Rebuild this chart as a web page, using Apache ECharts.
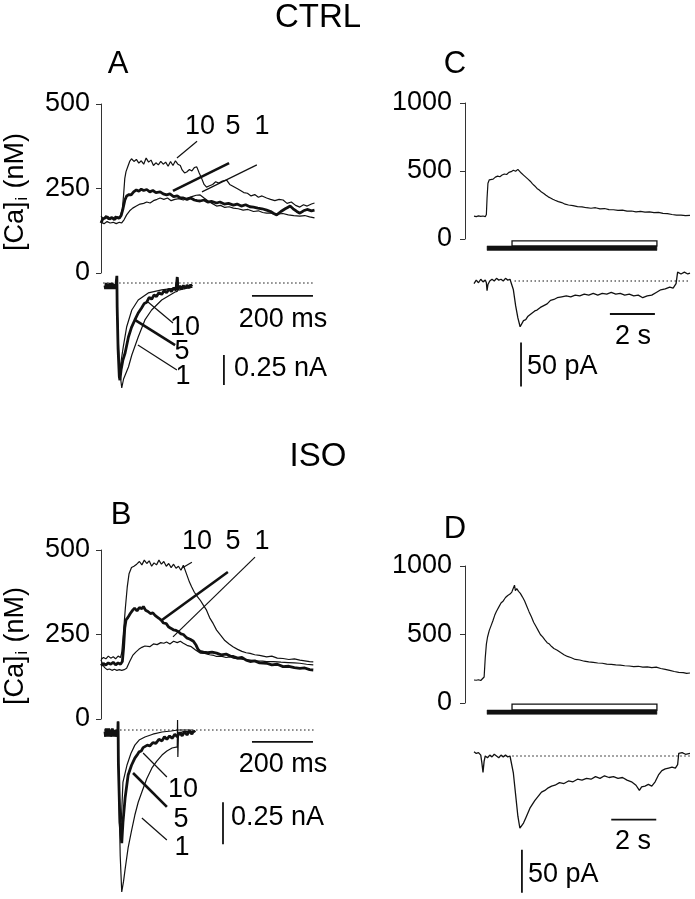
<!DOCTYPE html>
<html><head><meta charset="utf-8">
<script src="https://cdn.jsdelivr.net/npm/echarts@6/dist/echarts.min.js"></script>
<style>html,body{margin:0;padding:0;background:#fff}#c{width:695px;height:899px}</style>
</head><body><div id="c"></div>
<script>
// ---------- DATA ----------
// Panel A (CTRL) [Ca]i traces, time (ms) vs nM
const caA10 = [[0,168],[8,160],[16,170],[24,158],[32,165],[40,162],[48,168],[56,160],[64,170],[70,190],[74,230],[78,280],[82,300],[88,315],[94,330],[100,338],[108,330],[116,336],[124,325],[132,332],[140,322],[148,340],[156,328],[164,334],[172,318],[180,326],[188,320],[196,330],[204,322],[212,328],[220,316],[228,330],[236,318],[244,332],[252,322],[260,318],[266,305],[274,296],[281,299],[290,306],[298,302],[306,312],[314,314],[322,296],[330,280],[338,262],[346,254],[356,258],[366,262],[376,270],[386,266],[398,272],[412,275],[422,262],[434,256],[446,250],[456,245],[468,238],[480,236],[492,228],[504,232],[516,224],[528,228],[543,222],[556,218],[570,214],[584,218],[597,216],[610,206],[624,210],[638,200],[652,195],[664,202],[676,198],[690,204],[700,207]];
const caA5 = [[0,148],[6,160],[12,156],[20,166],[28,160],[36,164],[44,158],[52,165],[60,162],[66,170],[72,190],[78,215],[84,228],[92,232],[99,231],[107,240],[116,246],[124,242],[132,248],[140,244],[150,247],[160,240],[170,244],[180,238],[194,240],[204,234],[215,231],[226,234],[238,226],[250,228],[260,222],[270,222],[282,218],[294,222],[306,216],[315,214],[325,213],[338,216],[350,210],[362,212],[379,207],[390,210],[404,204],[418,206],[434,201],[446,204],[460,198],[474,202],[488,196],[500,195],[514,192],[528,190],[543,186],[556,182],[566,176],[576,172],[590,182],[604,190],[612,194],[620,198],[630,190],[642,182],[652,177],[664,184],[676,188],[690,184],[700,186]];
const caA1 = [[0,150],[10,146],[20,152],[30,148],[40,150],[50,146],[60,150],[68,148],[76,158],[84,172],[94,184],[104,192],[116,198],[128,204],[140,206],[150,210],[161,207],[172,214],[184,218],[194,222],[206,218],[218,222],[230,214],[242,218],[256,220],[270,216],[284,222],[298,226],[312,230],[325,231],[338,222],[350,214],[364,206],[379,198],[392,200],[406,194],[420,196],[434,192],[450,190],[466,186],[482,188],[500,182],[516,184],[530,179],[543,177],[560,178],[578,174],[596,176],[614,172],[632,170],[652,168],[668,170],[684,166],[700,163]];
// Panel A membrane current (nA)
const iA10 = [[13,-0.02],[20,-0.03],[27,-0.01],[34,-0.03],[41,-0.02],[48,-0.03],[52,0.05],[54,-0.3],[58,-0.62],[62,-0.725],[66,-0.65],[73,-0.533],[84,-0.367],[101,-0.225],[122,-0.142],[155,-0.083],[199,-0.058],[243,-0.042],[250,0.03],[252,-0.04],[292,-0.025]];
const iA5 = [[13,-0.02],[15,-0.05],[17,0.0],[19,-0.04],[21,-0.01],[23,-0.05],[25,-0.01],[27,-0.04],[29,0.0],[31,-0.05],[33,-0.02],[35,-0.04],[37,0.0],[39,-0.05],[41,-0.01],[43,-0.04],[45,-0.01],[47,-0.05],[49,-0.02],[51,-0.03],[52,0.06],[53,-0.2],[56,-0.55],[60,-0.78],[62,-0.81],[66,-0.72],[72,-0.64],[79,-0.583],[90,-0.45],[100,-0.37],[111,-0.308],[122,-0.25],[133,-0.208],[142,-0.17],[150,-0.16],[158,-0.12],[166,-0.135],[174,-0.1],[182,-0.112],[190,-0.08],[199,-0.095],[207,-0.062],[215,-0.08],[223,-0.05],[231,-0.07],[239,-0.04],[246,-0.06],[250,0.05],[252,-0.05],[258,-0.025],[264,-0.05],[270,-0.02],[276,-0.045],[282,-0.018],[288,-0.04],[294,-0.015],[298,-0.03]];
const iA1 = [[13,-0.03],[20,-0.02],[27,-0.04],[34,-0.02],[41,-0.03],[48,-0.02],[52,0.05],[54,-0.3],[60,-0.7],[68,-0.875],[74,-0.8],[90,-0.7],[101,-0.6],[122,-0.45],[144,-0.308],[166,-0.225],[199,-0.142],[243,-0.075],[250,-0.07],[252,0.04],[254,-0.06],[285,-0.042],[300,-0.035]];
// Panel B (ISO) [Ca]i traces
const caB10 = [[0,176],[8,182],[16,178],[24,186],[32,180],[40,184],[48,178],[56,186],[64,182],[68,196],[74,260],[80,330],[86,390],[92,430],[100,448],[108,452],[117,458],[126,466],[134,456],[142,470],[150,460],[158,468],[166,452],[174,462],[182,456],[190,470],[198,458],[206,466],[214,452],[222,460],[230,448],[238,458],[246,446],[254,452],[262,440],[270,455],[280,430],[290,405],[297,391],[306,375],[316,362],[325,352],[336,336],[346,322],[356,300],[368,282],[379,263],[392,248],[406,232],[420,222],[434,213],[448,206],[462,200],[476,196],[489,194],[504,190],[520,188],[543,184],[560,186],[578,180],[597,179],[616,176],[634,178],[652,174],[668,172],[684,170],[696,169]];
const caB5 = [[0,158],[8,164],[16,160],[24,166],[32,162],[40,168],[48,160],[56,166],[64,162],[70,170],[74,210],[78,270],[82,293],[88,300],[96,312],[104,322],[110,328],[118,320],[126,330],[134,326],[139,333],[146,322],[154,318],[162,312],[170,314],[178,306],[183,304],[190,298],[198,292],[205,284],[214,282],[222,272],[230,268],[237,264],[246,262],[254,258],[262,252],[270,250],[281,240],[292,236],[303,230],[312,218],[318,206],[325,200],[336,198],[350,196],[364,198],[379,195],[394,190],[410,192],[424,186],[434,185],[448,180],[462,182],[476,174],[489,170],[504,172],[520,166],[543,165],[560,160],[578,162],[597,155],[616,156],[634,152],[652,150],[668,151],[684,146],[696,145]];
const caB1 = [[0,175],[6,160],[12,152],[20,146],[28,148],[36,144],[44,147],[52,144],[60,146],[68,144],[76,146],[84,150],[94,170],[104,188],[114,198],[124,206],[134,212],[144,216],[150,219],[160,214],[172,222],[184,220],[196,226],[206,224],[215,228],[226,222],[238,230],[250,226],[260,230],[270,224],[282,218],[296,214],[310,204],[325,195],[340,194],[356,190],[370,188],[379,185],[394,186],[410,182],[424,184],[434,180],[452,178],[470,176],[490,174],[510,172],[530,171],[543,170],[566,170],[590,168],[614,167],[634,166],[652,165],[674,162],[696,160]];
// Panel B membrane current (nA)
const iB10 = [[13,-0.01],[22,0.0],[31,-0.02],[40,0.0],[48,-0.01],[55,0.0],[56,0.05],[57,-0.2],[62,-0.5],[66,-0.565],[72,-0.31],[85,-0.21],[98,-0.14],[111,-0.09],[125,-0.06],[144,-0.042],[170,-0.025],[200,-0.012],[230,-0.006],[252,0.0],[300,0.0]];
const iB5 = [[13,-0.01],[15,-0.04],[17,0.01],[19,-0.03],[21,0.0],[23,-0.04],[25,0.01],[27,-0.03],[29,0.0],[31,-0.04],[33,-0.01],[35,-0.03],[37,0.01],[39,-0.04],[41,0.0],[43,-0.03],[45,0.0],[47,-0.04],[49,-0.01],[51,-0.03],[53,0.0],[55,-0.02],[56,0.05],[57,-0.2],[62,-0.55],[68,-0.673],[72,-0.55],[79,-0.405],[89,-0.268],[100,-0.21],[111,-0.167],[118,-0.15],[125,-0.13],[132,-0.125],[138,-0.105],[144,-0.115],[152,-0.09],[160,-0.095],[170,-0.075],[180,-0.08],[190,-0.055],[200,-0.065],[208,-0.04],[216,-0.055],[225,-0.035],[233,-0.05],[242,-0.025],[250,-0.04],[258,-0.015],[266,-0.035],[274,-0.01],[282,-0.03],[290,-0.005],[298,-0.025],[304,-0.005],[308,-0.015]];
const iB1 = [[13,-0.01],[22,-0.02],[31,0.0],[40,-0.02],[48,0.0],[55,-0.01],[56,0.05],[58,-0.3],[63,-0.75],[68,-0.964],[74,-0.9],[79,-0.83],[89,-0.7],[100,-0.6],[111,-0.506],[122,-0.43],[134,-0.369],[150,-0.29],[167,-0.226],[183,-0.185],[200,-0.149],[216,-0.125],[233,-0.107],[250,-0.1],[251,0.06],[252,-0.16],[254,-0.02],[270,-0.01],[300,-0.01]];
// Panel C (CTRL) long trace, time (s)
const caC = [[0.4,168],[0.5,165],[0.6,170],[0.7,166],[0.8,169],[0.9,164],[0.95,180],[0.98,300],[1.02,410],[1.08,435],[1.15,445],[1.25,440],[1.35,455],[1.45,462],[1.55,458],[1.65,470],[1.75,478],[1.85,474],[1.95,490],[2.05,495],[2.15,505],[2.25,498],[2.35,512],[2.42,505],[2.5,485],[2.6,470],[2.7,455],[2.8,440],[2.9,425],[3.0,405],[3.1,390],[3.2,372],[3.3,360],[3.4,345],[3.5,335],[3.6,322],[3.7,310],[3.8,302],[3.9,292],[4.0,285],[4.15,275],[4.3,268],[4.45,256],[4.6,250],[4.8,245],[5.0,238],[5.2,236],[5.4,230],[5.6,226],[5.8,230],[6.0,222],[6.2,224],[6.4,216],[6.6,215],[6.8,210],[7.0,212],[7.2,205],[7.4,206],[7.6,200],[7.8,203],[8.0,198],[8.2,200],[8.4,194],[8.6,196],[8.8,188],[9.0,186],[9.2,180],[9.4,176],[9.6,175],[9.8,172],[10.0,174]];
const iC = [[0.4,-3],[0.5,1],[0.6,-2],[0.7,2],[0.8,-1],[0.9,1],[0.95,-2],[0.98,-11],[1.02,-4],[1.1,0],[1.2,2],[1.3,0],[1.4,3],[1.5,1],[1.6,2],[1.7,0],[1.8,3],[1.9,1],[2.0,2],[2.07,0],[2.15,-10],[2.25,-28],[2.35,-42],[2.45,-52],[2.5,-50],[2.6,-45],[2.7,-44],[2.8,-40],[2.9,-38],[3.0,-36],[3.1,-34],[3.2,-33],[3.35,-30],[3.5,-28],[3.65,-26],[3.8,-22],[3.95,-21],[4.1,-19],[4.3,-18],[4.5,-17],[4.7,-18],[4.9,-16],[5.1,-17],[5.3,-15],[5.5,-16],[5.7,-14],[5.9,-16],[6.1,-14],[6.3,-15],[6.5,-13],[6.7,-15],[6.9,-14],[7.1,-16],[7.3,-15],[7.5,-17],[7.7,-16],[7.9,-19],[8.1,-17],[8.3,-16],[8.5,-13],[8.7,-10],[8.9,-9],[9.1,-7],[9.25,-8],[9.38,-3],[9.45,10],[9.6,8],[9.75,10],[9.9,8],[10.0,9]];
// Panel D (ISO) long trace
const caD = [[0.4,168],[0.5,166],[0.6,170],[0.7,164],[0.78,166],[0.85,190],[0.9,330],[0.95,430],[1.0,480],[1.08,530],[1.16,565],[1.24,600],[1.32,640],[1.4,670],[1.5,700],[1.6,730],[1.7,745],[1.8,770],[1.9,785],[2.0,795],[2.08,810],[2.15,800],[2.2,860],[2.24,820],[2.3,835],[2.38,815],[2.46,800],[2.55,775],[2.65,745],[2.75,705],[2.85,665],[2.95,630],[3.05,590],[3.15,560],[3.25,530],[3.35,500],[3.45,482],[3.55,460],[3.65,440],[3.75,430],[3.85,412],[3.95,398],[4.1,385],[4.25,368],[4.4,352],[4.55,340],[4.7,332],[4.9,318],[5.1,314],[5.3,305],[5.5,300],[5.7,296],[5.9,292],[6.1,290],[6.3,284],[6.5,282],[6.7,278],[6.9,276],[7.1,272],[7.3,270],[7.5,266],[7.7,268],[7.9,262],[8.1,264],[8.3,258],[8.5,262],[8.7,252],[8.9,246],[9.1,238],[9.3,230],[9.5,224],[9.7,222],[9.85,216],[10.0,219]];
const iD = [[0.4,5],[0.5,3],[0.6,4],[0.7,1],[0.75,-8],[0.8,-19],[0.85,-6],[0.9,0],[1.0,-2],[1.1,1],[1.2,-1],[1.3,2],[1.4,0],[1.5,-2],[1.6,1],[1.7,-1],[1.8,1],[1.9,-1],[2.0,0],[2.08,-2],[2.15,-20],[2.25,-45],[2.35,-70],[2.44,-84],[2.5,-82],[2.6,-78],[2.7,-72],[2.8,-66],[2.9,-60],[3.0,-56],[3.1,-52],[3.25,-47],[3.4,-42],[3.55,-40],[3.7,-37],[3.85,-35],[4.0,-34],[4.2,-31],[4.4,-32],[4.6,-29],[4.8,-30],[5.0,-27],[5.2,-28],[5.4,-26],[5.6,-27],[5.8,-24],[6.0,-26],[6.2,-23],[6.4,-25],[6.6,-24],[6.8,-26],[7.0,-25],[7.2,-28],[7.4,-30],[7.6,-34],[7.75,-40],[7.85,-36],[8.0,-35],[8.15,-33],[8.3,-35],[8.45,-30],[8.6,-22],[8.75,-17],[8.9,-15],[9.05,-14],[9.2,-13],[9.35,-14],[9.45,-10],[9.5,3],[9.65,4],[9.8,2],[10.0,3]];
// Solution application bars (s): [start, end]
const solidBarC = [[0.98, 8.53]], openBarC = [[2.09, 8.53]];
const solidBarD = [[0.98, 8.53]], openBarD = [[2.09, 8.53]];
// Tick values
const caTicksAB = [0, 250, 500];
const caTicksCD = [0, 500, 1000];
// Scale bars
const scaleShortMs = 200, scaleShortNA = 0.25, scaleLongS = 2, scaleLongPA = 50;

// ---------- CHART ----------
const FONT = '"Liberation Sans", Arial, Helvetica, sans-serif';
const chart = echarts.init(document.getElementById('c'), null, {renderer: 'canvas'});
const INK = '#111';
const LBL = 27;

const grids = [
  {left:101, top:104, width:213.5, height:169},      // 0 A Ca
  {left:101, top:271, width:213.5, height:126},      // 1 A I
  {left:101, top:550, width:213.5, height:169},      // 2 B Ca
  {left:101, top:713.2, width:213.5, height:184.8},  // 3 B I
  {left:465, top:103, width:225, height:136},        // 4 C Ca
  {left:465, top:263.4, width:225, height:127.6},    // 5 C I
  {left:465, top:566, width:225, height:137},        // 6 D Ca
  {left:465, top:738.8, width:225, height:159.1}     // 7 D I
];
const xRanges = [[0,700],[0,700],[0,700],[0,700],[0,10],[0,10],[0,10],[0,10]];
const yRanges = [[0,500],[-0.95,0.1],[0,500],[-1.0,0.1],[0,1000],[-125,20],[0,1000],[-165,20]];

const xAxis = grids.map((g,i)=>({type:'value', gridIndex:i, min:xRanges[i][0], max:xRanges[i][1], show:false}));
const yAxis = grids.map((g,i)=>{
  const isCa = (i % 2 === 0);
  const ticks = i < 4 ? caTicksAB : caTicksCD;
  return {
    type:'value', gridIndex:i, min:yRanges[i][0], max:yRanges[i][1], show:isCa,
    interval: isCa ? ticks[1]-ticks[0] : undefined,
    axisLine:{show:true, lineStyle:{color:'#333', width:1}},
    axisTick:{show:true, length:5, lineStyle:{color:'#333', width:1}},
    splitLine:{show:false},
    axisLabel:{show:true, fontSize:LBL, color:'#000', fontFamily:FONT, margin:(i<4?11:13),
      formatter:function(v){return String(v);}}
  };
});

function ln(data, idx, width, type){
  return {type:'line', xAxisIndex:idx, yAxisIndex:idx, data:data, showSymbol:false, symbol:'none',
    clip:false, silent:true, animation:false,
    lineStyle:{color:INK, width:width||1.2, type:type||'solid'}};
}
const DOT = [1.5,2.5];

const series = [];
series.push(ln(caA10,0,1.2), ln(caA1,0,1.2), ln(caA5,0,2.8));
series.push(ln([[7,0],[702,0]],1,1,DOT));
series.push(ln(iA10,1,1.2), ln(iA1,1,1.2), ln(iA5,1,2.8));
series.push(ln(caB10,2,1.2), ln(caB1,2,1.2), ln(caB5,2,2.8));
series.push(ln([[10,0],[702,0]],3,1,DOT));
series.push(ln(iB10,3,1.2), ln(iB1,3,1.2), ln(iB5,3,2.8));
series.push(ln(caC,4,1.2), ln([[2.2,0],[10,0]],5,1,DOT), ln(iC,5,1.3));
series.push(ln(caD,6,1.2), ln([[2.1,0],[10,0]],7,1,DOT), ln(iD,7,1.3));

// Leader lines (data coords)
series.push(ln([[315,390],[249,340]],0,1.2), ln([[420,325],[236,243]],0,2.6), ln([[511,320],[331,240]],0,1.2));
series.push(ln([[154,-0.158],[236,-0.333]],1,1.2), ln([[111,-0.308],[243,-0.517]],1,2.6), ln([[121,-0.517],[249,-0.725]],1,1.2));
series.push(ln([[298,464],[266,447]],2,1.2), ln([[416,435],[200,293]],2,2.6), ln([[505,479],[236,243]],2,1.2));
series.push(ln([[138,-0.137],[216,-0.28]],3,1.2), ln([[105,-0.256],[216,-0.458]],3,2.6), ln([[134,-0.524],[216,-0.655]],3,1.2));

// Scale bars
series.push(ln([[495,-0.108],[495+scaleShortMs,-0.108]],1,1.8));
series.push(ln([[403,-0.6],[403,-0.6-scaleShortNA]],1,1.8));
series.push(ln([[495,-0.071],[495+scaleShortMs,-0.071]],3,1.8));
series.push(ln([[400,-0.43],[400,-0.43-scaleShortNA]],3,1.8));
series.push(ln([[6.44,-37.5],[6.44+scaleLongS,-37.5]],5,1.8));
series.push(ln([[2.49,-70],[2.49,-70-scaleLongPA]],5,1.8));
series.push(ln([[6.5,-74],[6.5+scaleLongS,-74]],7,1.8));
series.push(ln([[2.53,-109],[2.53,-109-scaleLongPA]],7,1.8));

// Solution bars
function barSeries(data, idx, lo, hi, open){
  return {type:'custom', xAxisIndex:idx, yAxisIndex:idx, data:data, silent:true, animation:false,
    encode:{x:[0,1]},
    renderItem:function(params, api){
      const p0 = api.coord([api.value(0), hi]);
      const p1 = api.coord([api.value(1), lo]);
      return {type:'rect', shape:{x:p0[0], y:p0[1], width:p1[0]-p0[0], height:p1[1]-p0[1]},
        style: open ? {fill:'#fff', stroke:INK, lineWidth:1.3} : {fill:INK, stroke:INK, lineWidth:0.5}};
    }};
}
series.push(barSeries(solidBarC,4,-84,-51,false), barSeries(openBarC,4,-51,-14,true));
series.push(barSeries(solidBarD,6,-83,-51,false), barSeries(openBarD,6,-51,-8,true));

function txt(x,y,s,size,align){
  return {type:'text', x:x, y:y, silent:true,
    style:{text:s, fontSize:size||LBL, fontFamily:FONT, fill:'#000', align:align||'center', verticalAlign:'middle'}};
}
function caLabel(x,y){
  return {type:'text', x:x, y:y, rotation:Math.PI/2, silent:true,
    style:{text:'{a|[Ca]}{b|i}{a| (nM)}', fontFamily:FONT, fill:'#000', align:'center', verticalAlign:'middle',
      rich:{a:{fontSize:LBL, fontFamily:FONT, fill:'#000'}, b:{fontSize:16, fontFamily:FONT, fill:'#000', padding:[14,1,0,1]}}}};
}
const graphic = [
  txt(318,18,'CTRL',33), txt(318,457,'ISO',33),
  txt(118,64,'A',31), txt(121,515,'B',31), txt(455,64,'C',31), txt(455,529,'D',31),
  txt(200,127,'10'), txt(233,127,'5'), txt(262,127,'1'),
  txt(197,542,'10'), txt(233,542,'5'), txt(262,542,'1'),
  txt(185,328,'10'), txt(182,352,'5'), txt(183,377,'1'),
  txt(183,790,'10'), txt(181,820,'5'), txt(182,848,'1'),
  txt(283,320,'200 ms'), txt(283,765,'200 ms'),
  txt(234,369,'0.25 nA',LBL,'left'), txt(231,818,'0.25 nA',LBL,'left'),
  txt(633,337,'2 s'), txt(633,842,'2 s'),
  txt(527,367,'50 pA',LBL,'left'), txt(528,875,'50 pA',LBL,'left'),
  caLabel(16,192), caLabel(16,646)
];

chart.setOption({animation:false, backgroundColor:'#fff', grid:grids, xAxis:xAxis, yAxis:yAxis, series:series, graphic:graphic});
</script></body></html>
